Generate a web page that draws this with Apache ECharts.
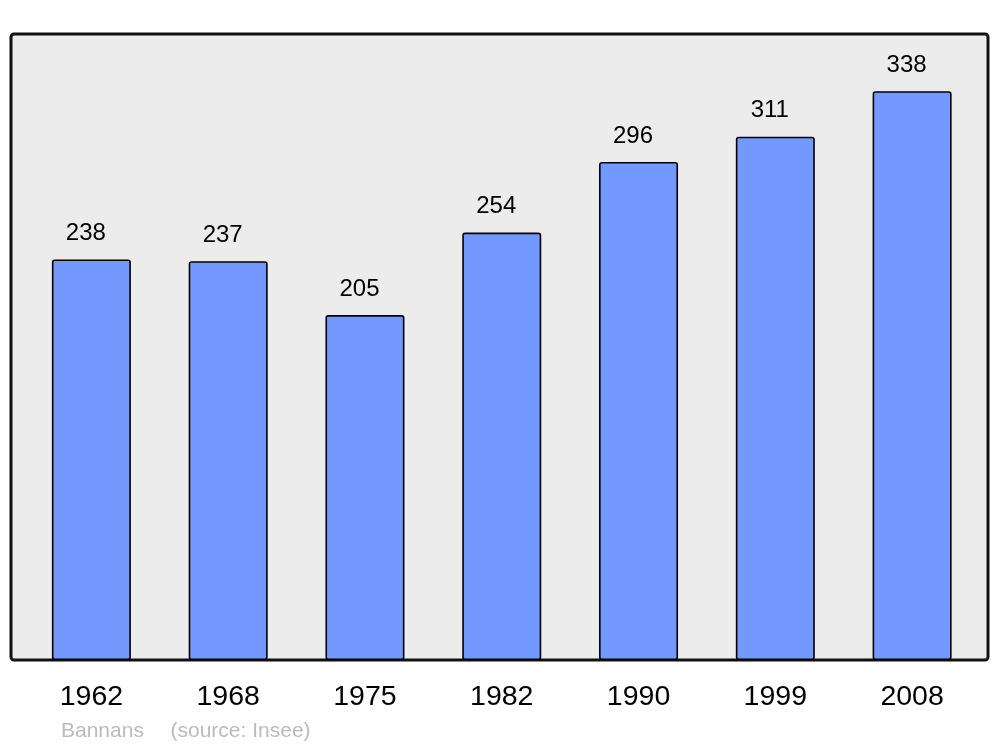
<!DOCTYPE html>
<html>
<head>
<meta charset="utf-8">
<script src="https://cdn.jsdelivr.net/npm/echarts@6/dist/echarts.min.js"></script>
<style>
html,body{margin:0;padding:0;background:#fff;}
#c{width:1000px;height:747px;}
</style>
</head>
<body>
<div id="c"></div>
<script>
const categories = ['1962','1968','1975','1982','1990','1999','2008'];
const population = [238,237,205,254,296,311,338];
const communeName = 'Bannans';
const sourceText = '(source: Insee)';

const FONT = '"Liberation Sans", Arial, sans-serif';
const chart = echarts.init(document.getElementById('c'), null, {renderer:'canvas'});
chart.setOption({
  animation:false,
  backgroundColor:'#ffffff',
  graphic:[
    {type:'rect', z:-10, shape:{x:11, y:34, width:977, height:626, r:3},
     style:{fill:'#ececec', stroke:'#111111', lineWidth:3}},
    {type:'text', left:61, top:721,
     style:{text:communeName, fill:'#bbbbbb', font:'21px ' + FONT}},
    {type:'text', left:170.5, top:721,
     style:{text:sourceText, fill:'#bbbbbb', font:'21px ' + FONT}}
  ],
  grid:{left:23, right:19.5, top:34, bottom:87, containLabel:false},
  xAxis:{
    type:'category', data:categories,
    axisLine:{show:false}, axisTick:{show:false},
    axisLabel:{color:'#000', fontSize:28.5, fontFamily:FONT, margin:23}
  },
  yAxis:{
    type:'value', min:0, max:372,
    show:false, splitLine:{show:false}
  },
  series:[{
    type:'bar', data:population, barWidth:79,
    itemStyle:{color:'#7399ff', borderColor:'#000', borderWidth:1.6, borderRadius:2},
    label:{show:true, position:'top', distance:14, offset:[-5.5,0], color:'#000', fontSize:24,
      fontFamily:FONT}
  }]
});
</script>
</body>
</html>
